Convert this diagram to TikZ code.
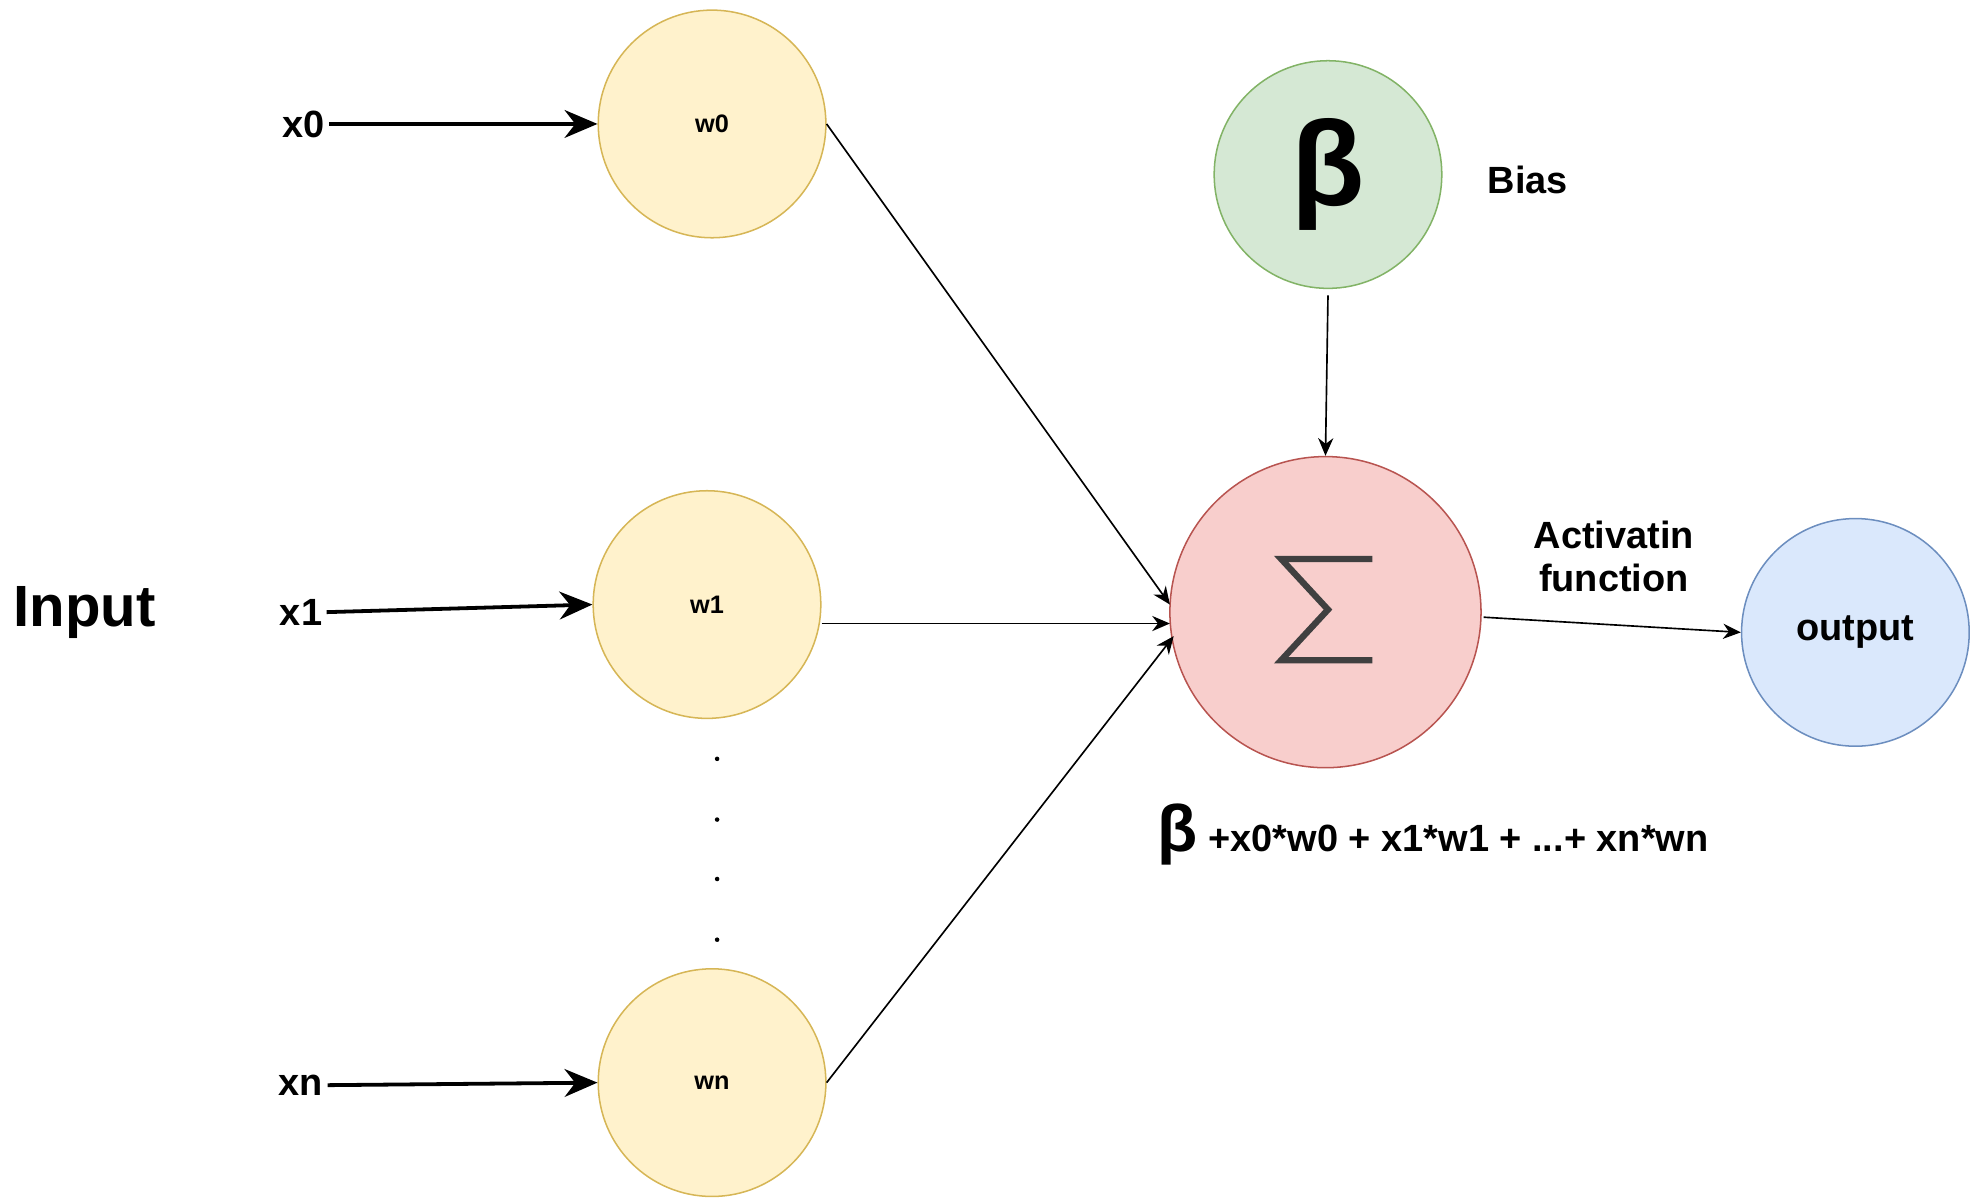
\documentclass[tikz,border=0pt]{standalone}
\usepackage{fontspec}
\setmainfont{Liberation Sans}
\usetikzlibrary{arrows.meta}
\begin{document}
\begin{tikzpicture}[x=1pt,y=-1pt,
  yc/.style={circle,minimum size=180pt,draw=yellow!60!orange!80!black!70,fill=yellow!18,line width=1.2pt,inner sep=0pt,font=\fontsize{20}{24}\selectfont\bfseries},
  lab/.style={font=\fontsize{30}{34}\selectfont\bfseries},
  thick arr/.style={line width=3pt,-{Stealth[length=26pt,width=22pt]}},
  thin arr/.style={line width=1.3pt,-{Stealth[length=14pt,width=12pt]}}]
\definecolor{ystroke}{HTML}{D6B656}\definecolor{yfill}{HTML}{FFF2CC}
\definecolor{gstroke}{HTML}{82B366}\definecolor{gfill}{HTML}{D5E8D4}
\definecolor{rstroke}{HTML}{B85450}\definecolor{rfill}{HTML}{F8CECC}
\definecolor{bstroke}{HTML}{6C8EBF}\definecolor{bfill}{HTML}{DAE8FC}
\useasboundingbox (0,0) rectangle (1560,951);
\tikzset{yc/.append style={draw=ystroke,fill=yfill}}
\node[yc] (w0) at (563,98) {w0};
\node[yc] (w1) at (559,478) {w1};
\node[yc] (wn) at (563,856) {wn};
\node[circle,minimum size=180pt,inner sep=0pt,draw=gstroke,fill=gfill,line width=1.2pt,font=\fontsize{95}{100}\selectfont\bfseries] (b) at (1050,138) {β};
\node[circle,minimum size=246pt,inner sep=0pt,draw=rstroke,fill=rfill,line width=1.2pt] (s) at (1048,484) {};
\draw[line width=5pt,color=black!75,line join=miter] (1085,442) -- (1013,442) -- (1050,482) -- (1013,522) -- (1085,522);
\node[circle,minimum size=180pt,inner sep=0pt,draw=bstroke,fill=bfill,line width=1.2pt,lab] (o) at (1467,500) {output};
\node[lab] (x0) at (240,98) {x0};
\node[lab] (x1) at (238,484) {x1};
\node[lab] (xn) at (238,858) {xn};
\node[font=\fontsize{46}{50}\selectfont\bfseries] (in) at (67,484) {Input};
\node[lab] (bias) at (1208,142) {Bias};
\node[lab,align=center] (act) at (1276,440) {Activatin\\function};
\node[lab,anchor=west] (f) at (912,660) {{\fontsize{52}{56}\selectfont β} +x0*w0 + x1*w1 + ...+ xn*wn};
\foreach \y in {600,648,695,743} \fill (567,\y) circle (1.8pt);
\draw[thick arr] (x0.east) -- (w0.west);
\draw[thick arr] (x1.east) -- (w1.west);
\draw[thick arr] (xn.east) -- (wn.west);
\draw[thin arr] (w0.east) -- (925,478);
\draw[thin arr] (w1.east |- 0,493) -- (925,493);
\draw[thin arr] (wn.east) -- (928,503);
\draw[thin arr] (b.south) ++(0,5) -- (s.north);
\draw[thin arr] (1173,488) -- (o.west);
\end{tikzpicture}
\end{document}
